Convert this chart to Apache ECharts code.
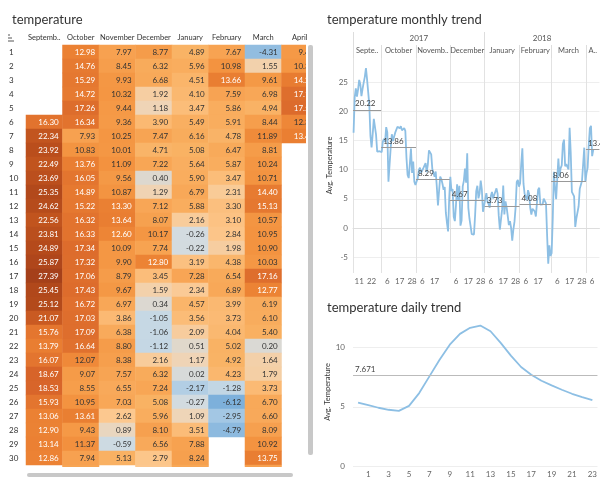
<!DOCTYPE html>
<html><head><meta charset="utf-8">
<script src="https://cdn.jsdelivr.net/npm/echarts@6/dist/echarts.min.js"></script>
<style>html,body{margin:0;padding:0;background:#fff}#c{width:600px;height:484px}</style>
</head><body><div id="c"></div>
<script>
// ---------- DATA ----------
const monthHeaders = ["Septemb..","October","November","December","January","February","March","April"];
const dayLabels = ["1","2","3","4","5","6","7","8","9","10","11","12","13","14","15","16","17","18","19","20","21","22","23","24","25","26","27","28","29","30","31"];
const sep = [null,null,null,null,null,16.30,22.34,23.92,22.49,23.69,25.35,24.62,22.56,23.81,24.89,25.87,27.39,25.45,25.12,21.07,15.76,13.79,16.07,18.67,18.53,15.93,13.06,12.90,13.14,12.86,null];
const oct = [12.98,14.76,15.29,14.72,17.26,16.34,7.93,10.83,13.76,16.05,14.89,15.22,16.32,16.33,17.34,17.32,17.06,17.43,16.72,17.03,17.09,16.64,12.07,9.07,8.55,10.95,13.61,9.43,11.37,7.94,7.36];
const nov = [7.97,8.45,9.93,10.32,9.44,9.36,10.25,10.01,11.09,9.56,10.87,13.30,13.64,12.60,10.09,9.90,8.79,9.67,6.97,3.86,6.38,8.80,8.38,7.57,6.55,7.03,2.62,0.89,-0.59,5.13,null];
const dec = [8.77,6.32,6.68,1.92,1.18,3.90,7.47,4.71,7.22,0.40,1.29,7.12,8.07,10.17,7.74,12.80,3.45,1.59,0.34,-1.05,-1.06,-1.12,2.16,6.32,7.24,5.08,5.96,8.10,6.56,2.79,2.65];
const jan = [4.89,5.96,4.51,4.10,3.47,5.49,6.16,5.08,5.64,5.90,6.79,5.88,2.16,-0.26,-0.22,3.19,7.28,2.34,4.57,3.56,2.09,0.51,1.17,0.02,-2.17,-0.27,1.09,3.51,7.88,8.24,7.07];
const feb = [7.67,10.98,13.66,7.59,5.86,5.91,4.78,6.47,5.87,3.47,2.31,3.30,3.10,2.84,1.98,4.38,6.54,6.89,3.99,3.73,4.04,5.02,4.92,4.23,-1.28,-6.12,-2.95,-4.79,null,null,null];
const mar = [-4.31,1.55,9.61,6.98,4.94,8.44,11.89,8.81,10.24,10.71,14.40,15.13,10.57,10.95,10.90,10.03,17.16,12.77,6.19,6.10,5.40,0.20,1.64,1.79,3.73,6.70,6.60,8.09,10.92,13.75,7.98];
const apr = [9.4,10.3,14.2,17.1,17.5,12.3,13.4,null,null,null,null,null,null,null,null,null,null,null,null,null,null,null,null,null,null,null,null,null,null,null,null];
const monthColumns = [sep,oct,nov,dec,jan,feb,mar,apr];

const lineMonthHeaders = ["Septe..","October","Novemb..","December","January","February","March","A.."];
const yearLabels = ["2017","2018"];
const monthlyAvg = [20.22,13.86,8.29,4.67,3.73,4.08,8.06,13.46];
const lineTickDays = [[0,11],[0,22],[1,6],[1,17],[1,28],[2,6],[2,17],[3,6],[3,17],[3,28],[4,6],[4,17],[4,28],[5,6],[5,17],[6,6],[6,17],[6,28],[7,6]];
const monthlyTicks = [-5,0,5,10,15,20,25];

const hours = ["0","1","2","3","4","5","6","7","8","9","10","11","12","13","14","15","16","17","18","19","20","21","22","23"];
const hourlyAvg = [5.36,5.14,4.92,4.75,4.66,5.08,6.16,7.57,8.98,10.25,11.16,11.67,11.86,11.38,10.40,9.32,8.36,7.71,7.20,6.81,6.44,6.10,5.82,5.57];
const dailyAvg = 7.671;
const dailyTicks = [0,5,10];

// ---------- colour scale ----------
const colorStops = [[-10,'#5f9bd0'],[-6,'#7eb1db'],[-3,'#a2c7e4'],[-1.2,'#c4d7e4'],[-0.3,'#d2dbe1'],[0.4,'#ddd8cf'],[1.1,'#eed5b8'],[2.6,'#fcc88f'],[3.6,'#fbbb76'],[5,'#f9b264'],[7,'#f8a757'],[9,'#f59b48'],[11,'#f39340'],[13,'#eb8133'],[16,'#e3752f'],[18.5,'#d8652a'],[22,'#c4561f'],[25,'#b44a1b'],[27.4,'#a5401a']];
function hex2rgb(h){return [parseInt(h.substr(1,2),16),parseInt(h.substr(3,2),16),parseInt(h.substr(5,2),16)];}
function colorFor(v){
  if(v<=colorStops[0][0]) return colorStops[0][1];
  for(let i=1;i<colorStops.length;i++){
    if(v<=colorStops[i][0]){
      const a=colorStops[i-1],b=colorStops[i];const t=(v-a[0])/(b[0]-a[0]);
      const ca=hex2rgb(a[1]),cb=hex2rgb(b[1]);
      return 'rgb('+ca.map((c,k)=>Math.round(c+(cb[k]-c)*t)).join(',')+')';
    }
  }
  return colorStops[colorStops.length-1][1];
}

// ---------- build ----------
const heatData=[];
monthColumns.forEach((col,m)=>col.forEach((v,d)=>{ if(v!==null) heatData.push({value:[m,d,v],itemStyle:{color:colorFor(v)}}); }));

const lineData=[]; const dayOfIdx=[]; const monthStart=[]; const monthEnd=[];
monthColumns.forEach((col,m)=>{
  col.forEach((v,d)=>{ if(v!==null){ if(monthStart[m]===undefined) monthStart[m]=lineData.length; monthEnd[m]=lineData.length; dayOfIdx.push(d+1); lineData.push([lineData.length,v]); }});
});
const X_MAX=218.5;
const boundaries=[-0.5]; monthStart.forEach((s,m)=>{ if(m>0) boundaries.push(s-0.5); });
const tickIdx = lineTickDays.map(([m,d])=> monthStart[m] + (d - dayOfIdx[monthStart[m]]));
const monthCenters = monthStart.map((s,m)=> m<7 ? (s-0.5 + monthEnd[m]+0.5)/2 : s-0.5+6);
const yearCenters = [ (monthStart[0]-0.5 + monthEnd[3]+0.5)/2, (monthStart[4]-0.5 + X_MAX)/2 ];
const yearBounds = [monthStart[0]-0.5, monthStart[4]-0.5];
const avgLines = monthlyAvg.map((a,m)=>[{name:a.toFixed(2),coord:[monthStart[m]-0.5,a]},{coord:[m<7?monthEnd[m]+0.5:X_MAX,a]}]);
function nearestLabel(v,centers,labels){let bi=0,bd=1e9;centers.forEach((c,i)=>{const dd=Math.abs(c-v);if(dd<bd){bd=dd;bi=i;}});return labels[bi];}

const FONT='Lato';
const chart=echarts.init(document.getElementById('c'),null,{renderer:'canvas'});
const option={
  animation:false,
  textStyle:{fontFamily:FONT},
  title:[
    {text:'temperature',left:7,top:8,textStyle:{fontSize:13,fontWeight:'normal',color:'#333',fontFamily:FONT}},
    {text:'temperature monthly trend',left:322,top:8,textStyle:{fontSize:13,fontWeight:'normal',color:'#333',fontFamily:FONT}},
    {text:'temperature daily trend',left:322,top:296,textStyle:{fontSize:13,fontWeight:'normal',color:'#333',fontFamily:FONT}}
  ],
  grid:[
    {left:26,top:45,width:292,height:434},
    {left:353,top:58,width:250,height:215},
    {left:353,top:318,width:245,height:148}
  ],
  xAxis:[
    {gridIndex:0,type:'category',data:monthHeaders,position:'top',axisLine:{show:false},axisTick:{show:false},splitLine:{show:false},
     axisLabel:{interval:0,fontSize:7.5,color:'#333',margin:3}},
    {gridIndex:1,type:'value',min:-0.5,max:X_MAX,position:'bottom',
     axisLine:{show:true,lineStyle:{color:'#ddd'}},
     axisTick:{show:true,customValues:boundaries,length:12,lineStyle:{color:'#ddd'}},
     splitLine:{show:true,lineStyle:{color:'#e2e2e2'}},
     axisLabel:{customValues:tickIdx,fontSize:8,color:'#666',margin:4,formatter:v=>String(dayOfIdx[Math.round(v)])}},
    {gridIndex:1,type:'value',min:-0.5,max:X_MAX,position:'top',
     axisLine:{show:false},splitLine:{show:false},
     axisTick:{show:true,customValues:boundaries,length:13,lineStyle:{color:'#ddd'}},
     axisLabel:{customValues:monthCenters,fontSize:7.5,color:'#555',margin:3,formatter:v=>nearestLabel(v,monthCenters,lineMonthHeaders)}},
    {gridIndex:1,type:'value',min:-0.5,max:X_MAX,position:'top',offset:13,
     axisLine:{show:false},splitLine:{show:false},
     axisTick:{show:true,customValues:yearBounds,length:13,lineStyle:{color:'#ddd'}},
     axisLabel:{customValues:yearCenters,fontSize:8,color:'#555',margin:3,formatter:v=>nearestLabel(v,yearCenters,yearLabels)}},
    {gridIndex:2,type:'category',data:hours,boundaryGap:true,axisLine:{show:false},axisTick:{show:false},
     axisLabel:{interval:(i)=>i%2===1,fontSize:8,color:'#666',margin:4}}
  ],
  yAxis:[
    {gridIndex:0,type:'category',data:dayLabels,inverse:true,axisLine:{show:false},axisTick:{show:false},splitLine:{show:false},
     axisLabel:{interval:0,align:'left',margin:17,fontSize:8,color:'#333'}},
    {gridIndex:1,type:'value',min:-7.7,max:29.1,axisLine:{show:false},
     axisTick:{show:false,customValues:monthlyTicks},
     axisLabel:{customValues:monthlyTicks,fontSize:8,color:'#666',margin:5},
     splitLine:{show:true,lineStyle:{color:'#eeeeee'}},
     name:'Avg. Temperature',nameLocation:'middle',nameGap:19,nameRotate:90,nameTextStyle:{fontSize:7.5,color:'#333'}},
    {gridIndex:2,type:'value',min:0,max:12.5,axisLine:{show:false},
     axisTick:{show:false,customValues:dailyTicks},
     axisLabel:{customValues:dailyTicks,fontSize:8,color:'#666',margin:8},
     splitLine:{show:true,lineStyle:{color:'#eeeeee'}},
     name:'Avg. Temperature',nameLocation:'middle',nameGap:21,nameRotate:90,nameTextStyle:{fontSize:7.5,color:'#333'}}
  ],
  series:[
    {type:'heatmap',xAxisIndex:0,yAxisIndex:0,data:heatData,itemStyle:{borderWidth:0},
     label:{show:true,position:'insideRight',distance:4,fontSize:8,
       formatter:p=>(p.value[2]>=12.5?'{w|':'{d|')+p.value[2].toFixed(2)+'}',
       rich:{w:{color:'#fff',fontSize:8,fontFamily:FONT},d:{color:'#333',fontSize:8,fontFamily:FONT}}},
     emphasis:{disabled:true}},
    {type:'line',xAxisIndex:1,yAxisIndex:1,data:lineData,showSymbol:false,lineStyle:{color:'#8dbfe4',width:1.8},itemStyle:{color:'#8dbfe4'},
     markLine:{silent:true,symbol:'none',lineStyle:{color:'#999',type:'solid',width:1},
       label:{show:true,position:'insideStartTop',distance:[2,2],formatter:'{b}',fontSize:8,color:'#444'},
       data:avgLines}},
    {type:'line',xAxisIndex:4,yAxisIndex:2,data:hourlyAvg,showSymbol:false,lineStyle:{color:'#8dbfe4',width:1.8},itemStyle:{color:'#8dbfe4'},
     markLine:{silent:true,symbol:'none',lineStyle:{color:'#bbb',type:'solid',width:1},
       label:{show:true,position:'insideStartTop',distance:[2,2],formatter:String(dailyAvg),fontSize:8,color:'#444'},
       data:[{yAxis:dailyAvg}]}}
  ],
  graphic:[
    {type:'rect',z:100,shape:{x:306,y:44,width:14,height:440},style:{fill:'#fff'}},
    {type:'rect',z:100,shape:{x:0,y:467,width:320,height:17},style:{fill:'#fff'}},
    {type:'rect',z:101,shape:{x:308,y:45,width:5,height:410,r:2},style:{fill:'#c8c8c8'}},
    {type:'rect',z:101,shape:{x:27,y:473,width:266,height:4,r:2},style:{fill:'#c8c8c8'}},
    {type:'line',z:101,shape:{x1:8,y1:35,x2:10,y2:35},style:{stroke:'#555',lineWidth:1}},
    {type:'line',z:101,shape:{x1:8,y1:38,x2:12,y2:38},style:{stroke:'#555',lineWidth:1}},
    {type:'line',z:101,shape:{x1:8,y1:41,x2:14,y2:41},style:{stroke:'#555',lineWidth:1}}
  ]
};
chart.setOption(option);
</script></body></html>
